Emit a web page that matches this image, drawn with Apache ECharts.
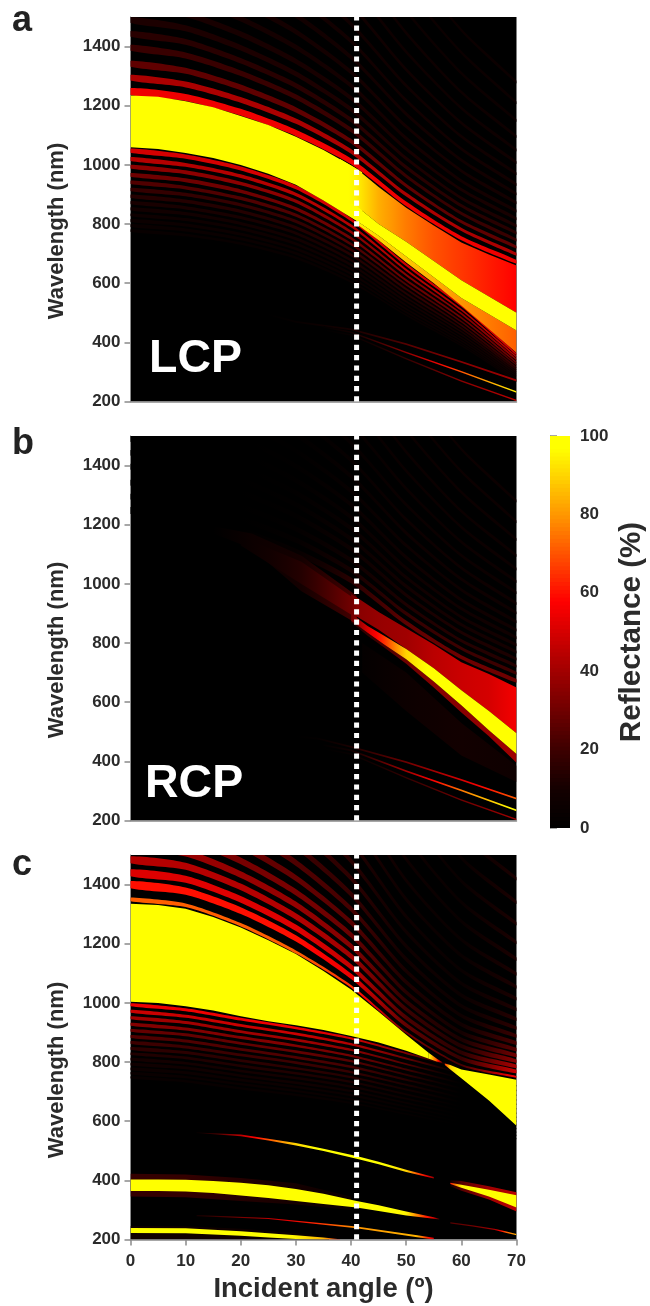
<!DOCTYPE html>
<html><head><meta charset="utf-8">
<style>html,body{margin:0;padding:0;background:#fff}#c{width:650px;height:1306px;filter:blur(0.7px)}</style>
<script src="https://cdn.jsdelivr.net/npm/echarts@6/dist/echarts.min.js"></script>
</head><body><div id="c"></div>
<script>
// ---------- axes ----------
const X_TICKS=[0,10,20,30,40,50,60,70];
const Y_TICKS=[200,400,600,800,1000,1200,1400];
const BAR_TICKS=[0,20,40,60,80,100];
const DASH_LINE=[[41,200],[41,1500]];
// colour scale: [reflectance, r, g, b]
const SCALE=[[0,0,0,0],[10,20,0,0],[20,60,0,0],[40,160,0,0],[58,255,0,0],[80,255,150,0],[97,255,255,0],[100,255,255,0]];
// fringe knots (angle) and their thickness ratio
const KNOTS=[0,10,20,30,40,50,60,70];
const FRINGE_THICKNESS=[1,1,.95,.9,.8,.65,.55,.5];

// ---------- LCP (a) : rows are [level, width nm, centre nm at each knot] ----------
const LCP_UPPER=[
[55,24,1248,1228,1178,1108,1012,868,752,672],
[42,20,1295,1272,1220,1148,1046,900,782,698],
[27,20,1342,1318,1262,1186,1080,930,808,722],
[19,20,1396,1370,1310,1230,1118,962,836,746],
[15,20,1443,1416,1352,1268,1152,992,862,770],
[12,20,1490,1462,1396,1308,1188,1022,888,794],
[11,20,1540,1510,1442,1350,1226,1054,916,818],
[10,20,1596,1566,1494,1398,1268,1090,946,844],
[10,20,1656,1625,1550,1450,1314,1130,980,872],
[9,20,1720,1688,1610,1506,1364,1172,1016,902],
[9,20,1790,1756,1674,1566,1418,1218,1054,934],
[8,20,1866,1830,1745,1632,1476,1268,1096,970],
[8,20,1950,1912,1822,1704,1540,1322,1142,1008],
[7,20,2042,2002,1908,1782,1610,1382,1192,1050],
[7,20,2140,2098,1998,1866,1686,1446,1246,1096],
[6,20,2250,2206,2100,1962,1772,1520,1310,1150],
[6,20,2370,2324,2212,2066,1866,1600,1380,1210],
[6,20,2500,2452,2334,2180,1968,1688,1456,1280]];
const LCP_LOWER=[
[50,14,1048,1028,988,924,815,662,524,360],
[44,13,1020,1000,962,900,794,645,510,351],
[36,13,994,975,937,877,773,628,497,342],
[30,13,966,948,911,852,752,610,483,332],
[24,12,941,923,887,830,732,595,470,324],
[18,12,917,900,865,809,713,580,458,315],
[14,12,894,877,843,788,696,565,447,308],
[11,11,872,855,822,769,678,551,436,300],
[9,11,851,835,802,750,662,538,425,293],
[7,10,831,815,784,733,647,525,415,286],
[6,10,812,797,766,716,632,513,406,279],
[5,10,795,780,750,701,618,502,397,273],
[4,9,778,763,734,686,605,492,389,268]];
// rows: [angles, high nm, low nm, level]
const LCP_MAIN=[[0,5,10,15,20,25,30,35,40,42],[1235,1230,1215,1195,1165,1135,1095,1050,998,975],[1060,1054,1040,1023,1000,970,933,880,822,800],[100,100,100,100,100,100,100,100,100,97]];
const LCP_UPPER_LOBE=[[38,41,45,50,55,60,65,70],[1020,987,925,855,795,738,697,660],[880,860,800,740,675,610,555,500],[100,95,84,76,70,66,62,58]];
const LCP_LOWER_LOBE=[[41,45,50,55,60,65,70],[811,760,690,620,550,495,440],[800,745,670,600,525,445,365],[95,90,88,84,80,76,72]];
const LCP_STRIPE=[[40,41,45,50,55,60,65,70],[870,860,800,740,675,610,555,500],[825,811,760,690,620,550,495,440],[100,100,100,100,100,100,100,100]];
const LCP_LINE_A=[[25,30,40,50,60,70],[497,472,447,397,337,274],[491,466,441,391,331,268],[0,3,10,25,35,40]];
const LCP_LINE_B=[[35,40,50,60,70],[455,437,368,303,235],[449,432,363,298,230],[1,8,35,70,95]];
const LCP_LINE_C=[[35,40,50,60,70],[445,427,347,272,206],[440,422,342,267,201],[0,4,18,35,45]];

// ---------- RCP (b) ----------
const RCP_UPPER_LEVELS=[30,20,14,12,10,9,8,8,7,7,7,6,6,6,6,6,6,6];
const RCP_UPPER_FADE=[0,0,0,.1,.5,.9,1,1];
const RCP_GLOW=[[15,22,31,41],[1195,1170,1095,960],[1170,1120,975,866],[0,6,10,22]];
const RCP_ARC=[[20,31,41],[1160,1075,945],[1130,1000,885],[4,14,32]];
const RCP_UPPER_LOBE=[[40,41,45,50,55,60,65,70],[965,955,905,850,795,735,695,650],[900,890,845,780,715,640,570,495],[30,35,38,40,45,48,50,56]];
const RCP_FAN=[[42,50,60,70],[800,700,530,385],[700,570,420,330],[2,6,9,7]];
const RCP_HALO=[[40,43,46,50,55,60,65,70],[875,835,795,745,670,590,505,425],[870,825,785,730,650,565,485,395],[15,18,22,30,35,35,38,40]];
const RCP_STRIPE=[[40,43,46,50,55,60,65,70],[900,858,825,780,715,640,570,495],[875,835,795,745,670,590,505,425],[30,50,65,90,100,100,100,100]];
const RCP_LINE_A=[[30,34,40,50,60,70],[487,480,452,400,340,277],[481,474,446,394,334,271],[0,2,12,30,50,72]];
const RCP_LINE_B=[[35,40,50,60,70],[458,440,370,305,237],[452,434,364,299,231],[1,8,40,75,100]];
const RCP_LINE_C=[[35,40,50,60,70],[445,427,347,272,206],[440,422,342,267,201],[0,4,18,30,40]];

// ---------- Sum (c) ----------
const SUM_UPPER=[
[72,12,1350,1330,1264,1172,1056,900,790,750],
[60,24,1400,1378,1312,1218,1090,925,812,768],
[52,24,1440,1418,1350,1254,1122,950,832,785],
[44,24,1484,1462,1392,1292,1158,978,854,803],
[38,24,1530,1507,1434,1332,1192,1005,876,822],
[32,24,1580,1556,1480,1374,1230,1036,900,842],
[28,24,1635,1610,1532,1422,1272,1070,927,864],
[24,24,1695,1670,1588,1474,1318,1108,957,888],
[20,24,1760,1734,1648,1530,1368,1148,990,915],
[18,24,1830,1802,1713,1590,1422,1192,1026,945],
[16,24,1905,1876,1784,1656,1480,1240,1066,978],
[15,24,1990,1960,1862,1728,1544,1292,1110,1014],
[15,24,2080,2048,1946,1806,1614,1350,1160,1054],
[15,24,2180,2146,2040,1892,1690,1414,1214,1098],
[15,24,2290,2254,2142,1988,1776,1486,1276,1148],
[15,24,2410,2372,2254,2092,1868,1562,1340,1204],
[15,24,2540,2500,2376,2204,1968,1646,1412,1268],
[15,24,2680,2638,2508,2326,2076,1736,1490,1340],
[15,24,2830,2786,2648,2456,2192,1834,1572,1420]];
const SUM_UPPER_FADE=[1,1,1,1,.9,.45,.3,.8];
const SUM_LOWER=[
[55,10,994,977,945,915,880,830,780,720],
[48,10,972,955,924,895,860,812,762,704],
[40,10,950,934,903,875,841,793,745,688],
[34,10,928,912,883,855,821,775,728,672],
[28,10,907,892,863,835,803,757,711,657],
[24,10,886,871,843,816,784,740,695,642],
[20,10,866,851,824,798,766,723,679,627],
[16,10,846,832,805,779,749,707,664,613],
[13,9,828,814,787,762,733,691,650,600],
[10,9,810,796,770,746,717,676,636,587],
[8,9,793,780,754,730,702,662,622,575],
[6,9,777,764,739,716,688,649,609,563],
[5,8,762,749,725,702,674,636,597,552],
[4,8,748,735,711,689,662,624,586,541]];
const SUM_LOWER_FADE=[1,1,1,1,.9,.6,0,0];
const SUM_MAIN=[[0,5,10,15,20,25,30,35,40,45,50,54],[1335,1331,1318,1290,1255,1212,1165,1108,1045,970,892,832],[1004,1000,989,974,955,938,924,908,888,866,838,812],[100,100,100,100,100,100,100,100,100,100,100,100]];
const SUM_TIP=[[54,55.5,56.5],[832,812,800],[812,802,798],[100,70,30]];
const SUM_LOBE=[[57,58,60,65,70],[795,790,775,758,740],[790,775,745,670,585],[65,90,100,100,100]];
const SUM_HALO_BAND=[[0,10,20,30,40],[422,420,408,390,345],[345,343,330,318,300],[18,18,14,10,6]];
const SUM_BAND_400=[[0,5,10,15,20,25,30,35,41,45,50,55,56],[403,403,402,398,392,383,371,355,330,316,295,275,270],[364,364,362,357,349,340,330,320,308,296,281,270,268],[100,100,100,100,100,100,100,100,100,100,95,50,20]];
const SUM_LINE_560=[[12,20,25,30,35,41,45,50,55],[562,555,541,526,507,482,463,436,411],[560,549,535,518,499,473,454,428,406],[5,45,70,90,100,100,100,90,40]];
const SUM_RIGHT_HALO=[[58,60,65,70],[400,398,380,360],[380,365,335,295],[10,25,40,45]];
const SUM_RIGHT_BAND=[[58,60,65,70],[392,385,368,350],[388,375,345,308],[60,95,100,100]];
const SUM_LINE_280=[[12,25,41,52,55],[283,273,244,214,206],[279,269,238,208,200],[10,45,80,85,50]];
const SUM_LINE_250=[[58,62,66,68,70],[258,248,236,228,219],[254,244,232,223,214],[25,30,40,70,85]];
const SUM_BOTTOM_HALO=[[0,10,20,30,36],[246,245,236,222,210],[200,200,198,196,195],[8,8,7,4,0]];
const SUM_BAND_230=[[0,10,20,25,30,35,38],[239,238,228,221,214,207,201],[222,221,213,207,202,198,195],[100,100,100,100,95,85,60]];

// ---------- colour bar ----------
const BAR_LEVELS=[];for(let i=0;i<100;i++)BAR_LEVELS.push(i);

// ---------- helpers ----------
function colorOf(v){
  v=Math.max(0,Math.min(100,v));
  for(let i=1;i<SCALE.length;i++){
    if(v<=SCALE[i][0]){
      const a=SCALE[i-1],b=SCALE[i],t=(v-a[0])/(b[0]-a[0]);
      return 'rgb('+[1,2,3].map(k=>Math.round(a[k]+(b[k]-a[k])*t)).join(',')+')';
    }
  }
  return 'rgb(255,255,0)';
}
function fringes(rows,fade,levels){
  return rows.map((r,n)=>{
    const c=r.slice(2),lvl=levels?levels[n]:r[0],w=r[1];
    return {smooth:.25,a:KNOTS,
      hi:c.map((x,k)=>x+w*FRINGE_THICKNESS[k]/2),
      lo:c.map((x,k)=>x-w*FRINGE_THICKNESS[k]/2),
      v:c.map((x,k)=>lvl*(fade?fade[k]:1))};
  });
}
const band=r=>({a:r[0],hi:r[1],lo:r[2],v:r[3]});
const PANELS=[
 fringes(LCP_UPPER).concat(fringes(LCP_LOWER),[LCP_LINE_A,LCP_LINE_C,LCP_LINE_B,LCP_MAIN,LCP_UPPER_LOBE,LCP_LOWER_LOBE,LCP_STRIPE].map(band)),
 fringes(LCP_UPPER,RCP_UPPER_FADE,RCP_UPPER_LEVELS).concat([RCP_GLOW,RCP_ARC,RCP_FAN,RCP_LINE_A,RCP_LINE_C,RCP_LINE_B,RCP_UPPER_LOBE,RCP_HALO,RCP_STRIPE].map(band)),
 fringes(SUM_UPPER,SUM_UPPER_FADE).concat(fringes(SUM_LOWER,SUM_LOWER_FADE),[SUM_HALO_BAND,SUM_BOTTOM_HALO,SUM_MAIN,SUM_TIP,SUM_LOBE,SUM_BAND_400,SUM_LINE_560,SUM_RIGHT_HALO,SUM_RIGHT_BAND,SUM_LINE_280,SUM_LINE_250,SUM_BAND_230].map(band))
];
function renderBand(bands){
  return function(params,api){
    const b=bands[api.value(0)],n=b.a.length,pts=[];
    for(let i=0;i<n;i++)pts.push(api.coord([b.a[i],b.hi[i]]));
    for(let i=n-1;i>=0;i--)pts.push(api.coord([b.a[i],b.lo[i]]));
    const a0=b.a[0],span=b.a[n-1]-a0,stops=[];
    for(let i=0;i<n-1;i++)for(let s=0;s<4;s++){
      const t=s/4,ang=b.a[i]+(b.a[i+1]-b.a[i])*t;
      stops.push({offset:(ang-a0)/span,color:colorOf(b.v[i]+(b.v[i+1]-b.v[i])*t)});
    }
    stops.push({offset:1,color:colorOf(b.v[n-1])});
    const x0=api.coord([a0,b.lo[0]])[0],x1=api.coord([b.a[n-1],b.lo[0]])[0];
    const style={fill:new echarts.graphic.LinearGradient(x0,0,x1,0,stops,true)};
    const cs=params.coordSys;
    return {type:'polygon',shape:{points:pts,smooth:b.smooth||0},style:style,
      clipPath:{type:'rect',shape:{x:cs.x,y:cs.y,width:cs.width,height:cs.height}}};
  };
}
const FONT='"Liberation Sans",Arial,sans-serif';
const GREY='#8a8a8a',INK='#2b2b2b';
const TOPS=[17,436,855];
const plainLabel=v=>String(v);
const grids=[],xAxes=[],yAxes=[],series=[];
TOPS.forEach((top,p)=>{
  grids.push({left:130.5,width:386,top:top,height:384.5,show:true,backgroundColor:'#000',borderWidth:0,outerBoundsMode:'none'});
  xAxes.push({type:'value',gridIndex:p,min:0,max:70,interval:10,splitLine:{show:false},
    axisLine:{lineStyle:{color:GREY,width:1.5}},
    axisTick:{show:p===2,length:6,lineStyle:{color:GREY,width:1.5}},
    axisLabel:{show:p===2,color:INK,fontFamily:FONT,fontWeight:'bold',fontSize:17,margin:13,customValues:X_TICKS,formatter:plainLabel},
    name:p===2?'Incident angle (º)':'',nameLocation:'middle',nameGap:36,
    nameTextStyle:{color:INK,fontFamily:FONT,fontWeight:'bold',fontSize:27.4}});
  yAxes.push({type:'value',gridIndex:p,min:200,max:1500,interval:200,splitLine:{show:false},
    axisLine:{show:true,lineStyle:{color:GREY,width:1}},
    axisTick:{show:true,length:6,lineStyle:{color:GREY,width:1.5},customValues:Y_TICKS},
    axisLabel:{color:INK,fontFamily:FONT,fontWeight:'bold',fontSize:17,margin:10,customValues:Y_TICKS,formatter:plainLabel}});
  series.push({type:'custom',coordinateSystem:'cartesian2d',xAxisIndex:p,yAxisIndex:p,clip:true,silent:true,animation:false,
    data:PANELS[p].map((_,i)=>[i]),renderItem:renderBand(PANELS[p])});
  series.push({type:'line',xAxisIndex:p,yAxisIndex:p,data:DASH_LINE,showSymbol:false,silent:true,animation:false,clip:false,z:5,
    lineStyle:{color:'#fff',width:5,type:[5.2,5.1]}});
});
// colour bar
grids.push({left:550,width:20,top:436,height:392,show:false,outerBoundsMode:'none'});
xAxes.push({type:'value',gridIndex:3,min:0,max:1,show:false});
yAxes.push({type:'value',gridIndex:3,min:0,max:100,interval:20,position:'right',splitLine:{show:false},
  axisLine:{show:true,lineStyle:{color:GREY,width:1}},
  axisTick:{show:true,length:7,lineStyle:{color:GREY,width:1.5}},
  axisLabel:{color:INK,fontFamily:FONT,fontWeight:'bold',fontSize:17,margin:10,customValues:BAR_TICKS,formatter:plainLabel}});
series.push({type:'custom',coordinateSystem:'cartesian2d',xAxisIndex:3,yAxisIndex:3,silent:true,animation:false,
  data:BAR_LEVELS.map(v=>[v]),
  renderItem:function(params,api){
    const v=api.value(0),a=api.coord([0,v]),b=api.coord([1,v+1]),c=colorOf(v+.5);
    const base=v===0?a[1]:a[1]+1;
    return {type:'rect',shape:{x:a[0],y:b[1],width:b[0]-a[0],height:base-b[1]},style:{fill:c}};
  }});
const txt=(text,x,y,size,color,rot)=>({type:'text',x:x,y:y,rotation:rot||0,z:20,
  style:{text:text,fill:color,font:'bold '+size+'px '+FONT,textAlign:rot?'center':'left',textVerticalAlign:rot?'middle':'top'}});
const ROT=Math.PI/2;
const chart=echarts.init(document.getElementById('c'),null,{renderer:'canvas',width:650,height:1306});
chart.setOption({animation:false,backgroundColor:'#fff',grid:grids,xAxis:xAxes,yAxis:yAxes,series:series,
 graphic:{elements:[
  txt('a',12,3,36,'#222'),txt('b',12,426,36,'#222'),txt('c',12,847,36,'#222'),
  txt('LCP',149,336,46.5,'#fff'),txt('RCP',145,761,46.5,'#fff'),
  txt('Wavelength (nm)',57,231,22,INK,ROT),txt('Wavelength (nm)',57,650,22,INK,ROT),txt('Wavelength (nm)',57,1070,22,INK,ROT),
  txt('Reflectance (%)',632,632,29.6,INK,ROT)
 ]}});
</script></body></html>
